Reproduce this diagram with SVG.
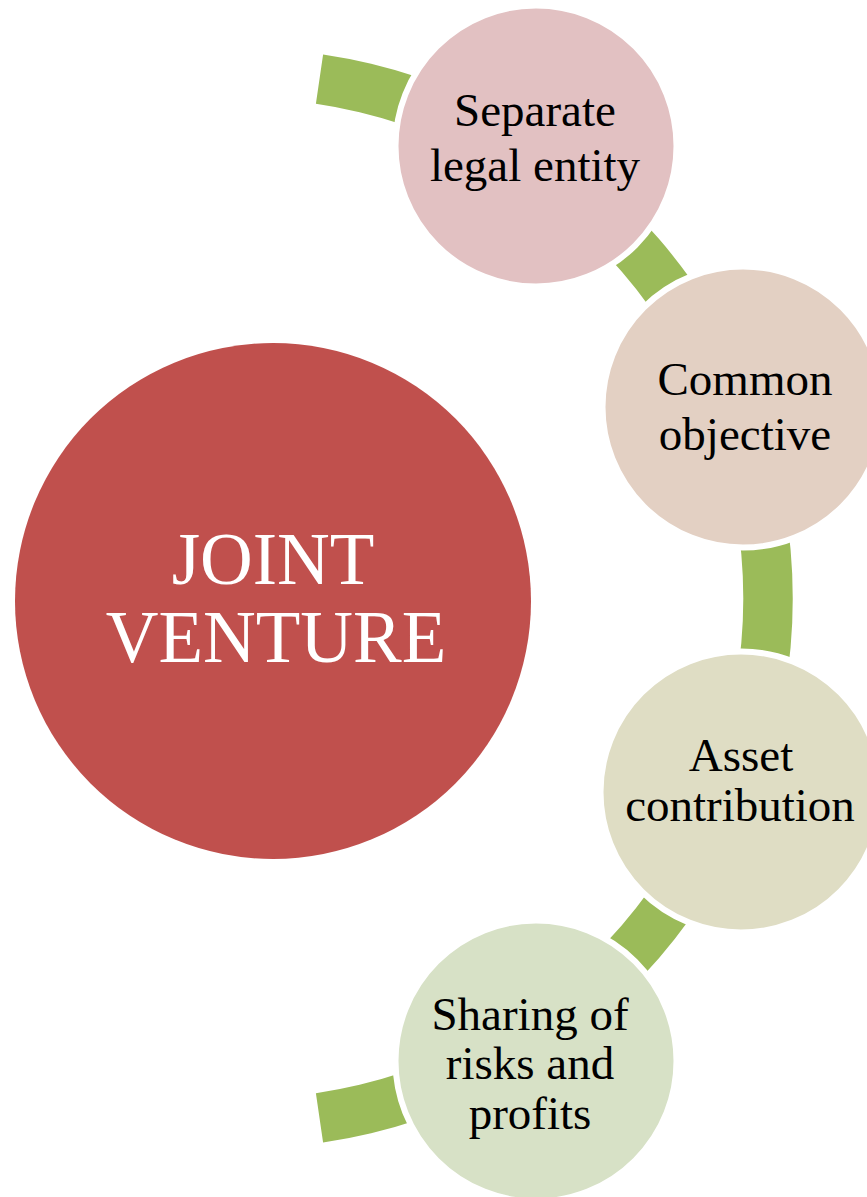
<svg xmlns="http://www.w3.org/2000/svg" width="867" height="1197" viewBox="0 0 867 1197">
<style>
.node{stroke:#ffffff;stroke-width:6}
.lbl{font-family:"Liberation Serif","Times New Roman",serif;font-size:47px;fill:#000000;text-anchor:middle}
.big{font-family:"Liberation Serif","Times New Roman",serif;font-size:73px;fill:#ffffff;text-anchor:middle}
.conn{fill:#9BBB59}
</style>
<rect width="867" height="1197" fill="#ffffff"/>
<g id="connectors">
<path class="conn" d="M323.1,54.4 A550,550 0 0 1 323.1,1142.6 L315.9,1093.2 A500,500 0 0 0 315.9,103.8 Z"/>
</g>
<g id="joint-venture">
<circle cx="273" cy="601" r="258" fill="#C0504D"/>
<text class="big" x="273" y="584">JOINT</text>
<text class="big" x="276" y="662">VENTURE</text>
</g>
<g id="separate-legal-entity">
<circle class="node" cx="536" cy="146" r="140.5" fill="#E2C1C2"/>
<text class="lbl" x="535" y="126">Separate</text>
<text class="lbl" x="535" y="181">legal entity</text>
</g>
<g id="common-objective">
<circle class="node" cx="743" cy="407" r="140.5" fill="#E3D0C3"/>
<text class="lbl" x="745" y="395">Common</text>
<text class="lbl" x="745" y="450">objective</text>
</g>
<g id="asset-contribution">
<circle class="node" cx="741" cy="792" r="140.5" fill="#DFDDC4"/>
<text class="lbl" x="741" y="771">Asset</text>
<text class="lbl" x="740" y="821">contribution</text>
</g>
<g id="sharing-of-risks-and-profits">
<circle class="node" cx="536" cy="1061" r="140.5" fill="#D7E1C6"/>
<text class="lbl" x="530" y="1030">Sharing of</text>
<text class="lbl" x="530" y="1079">risks and</text>
<text class="lbl" x="530" y="1129">profits</text>
</g>
</svg>
